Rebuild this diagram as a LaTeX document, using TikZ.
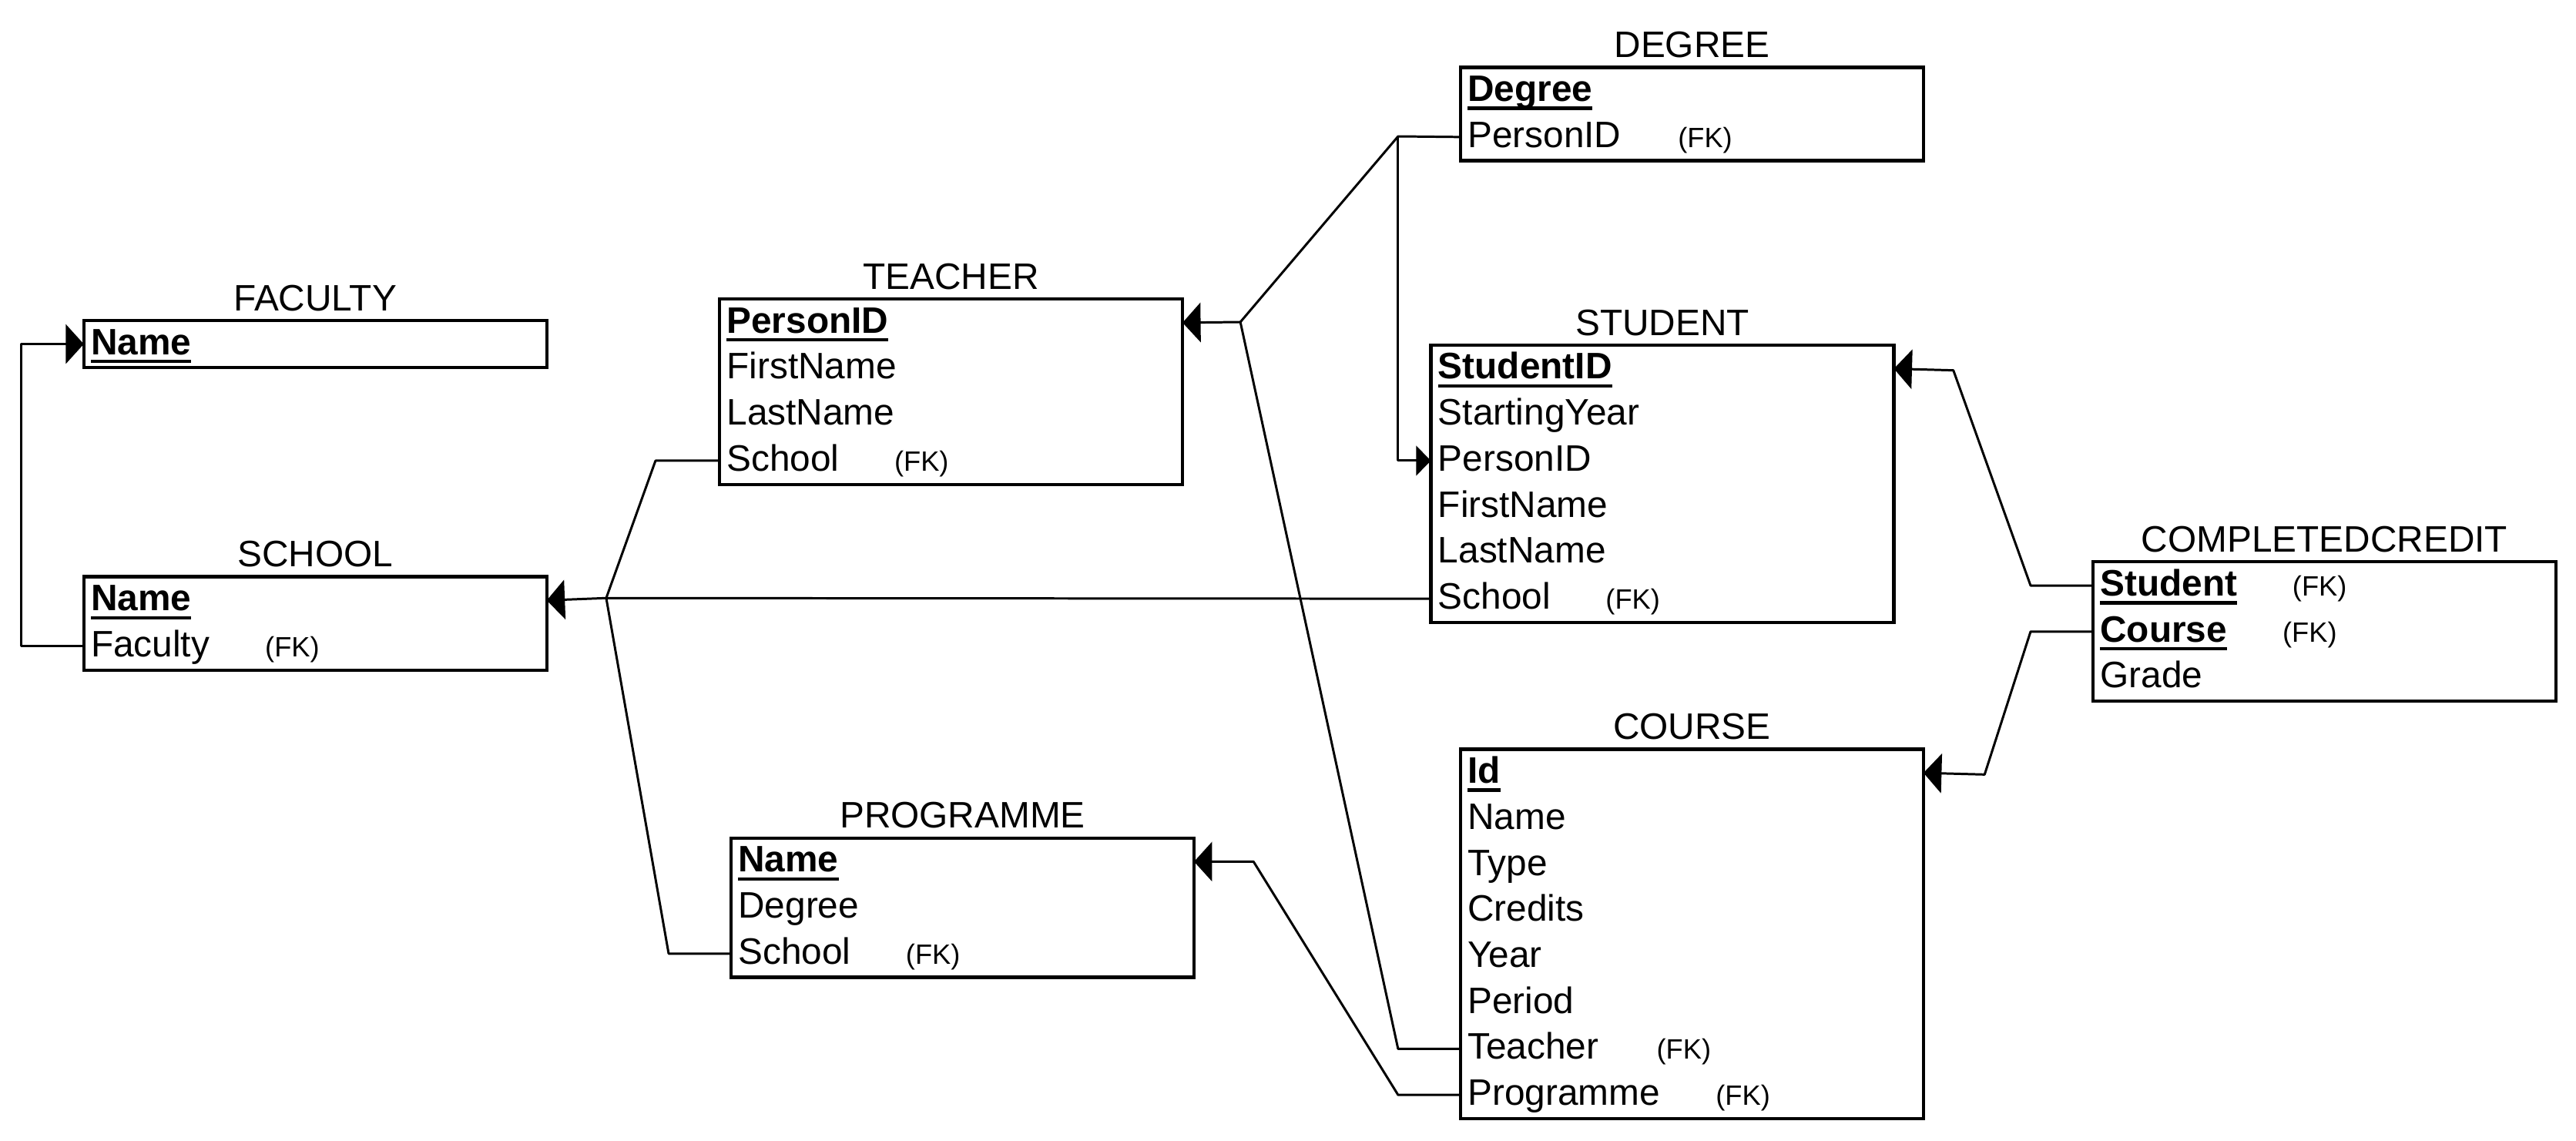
\documentclass[tikz,border=0pt]{standalone}
\usepackage{fontspec}
\setmainfont{Liberation Sans}
\usetikzlibrary{arrows.meta,fit,calc}
\newsavebox\kbox
\newcommand\keyf[1]{\sbox\kbox{\bfseries #1}\rlap{\rule[-2.6pt]{\wd\kbox}{1pt}}\usebox\kbox}
\newcommand\fkf[2]{\makebox[#1][l]{#2}{\fontsize{8.5}{10}\selectfont(FK)}}
\newcommand\ertab[6]{%
  \foreach \txt [count=\i] in {#6}{%
    \node[row] (#1-\i) at (#2,{#3+28*(\i-1)}) {\txt};}
  \node[tbox, fit=(#1-1)(#1-#5)] (#1) {};
  \node[ttitle] (#1-title) at ($(#1.north)+(0,-5)$) {#4};
}
\begin{document}
\begin{tikzpicture}[x=0.5pt,y=-0.5pt,
  row/.style={minimum width=140.5pt, minimum height=14pt, inner ysep=0pt,
    inner xsep=2pt, text width=136.5pt, align=left, text height=6.3pt,
    text depth=0pt, font=\fontsize{11.2}{13}\selectfont, anchor=north west},
  tbox/.style={draw, line width=1pt, inner sep=0pt},
  ttitle/.style={anchor=base, inner sep=0pt, font=\fontsize{11.2}{13}\selectfont},
  conn/.style={line width=0.7pt, line join=round},
  tip/.style={-{Triangle[length=5.5pt,width=12pt]}},
  smalltip/.style={-{Triangle[length=4.5pt,width=9pt]}}
]
\fill[white] (0,0) rectangle (1568,694);
\useasboundingbox (0,0) rectangle (1568,694);

\ertab{faculty}{51}{195}{FACULTY}{1}{\keyf{Name}}
\ertab{school}{51}{351}{SCHOOL}{2}{\keyf{Name},\fkf{53pt}{Faculty}}
\ertab{teacher}{438}{182}{TEACHER}{4}{\keyf{PersonID},FirstName,LastName,\fkf{51pt}{School}}
\ertab{degree}{889}{41}{DEGREE}{2}{\keyf{Degree},\fkf{64pt}{PersonID}}
\ertab{student}{871}{210}{STUDENT}{6}{\keyf{StudentID},StartingYear,PersonID,FirstName,LastName,\fkf{51pt}{School}}
\ertab{cc}{1274}{342}{COMPLETEDCREDIT}{3}{\fkf{58.5pt}{\keyf{Student}},\fkf{55.5pt}{\keyf{Course}},Grade}
\ertab{course}{889}{456}{COURSE}{8}{\keyf{Id},Name,Type,Credits,Year,Period,\fkf{57.5pt}{Teacher},\fkf{75.5pt}{Programme}}
\ertab{programme}{445}{510}{PROGRAMME}{3}{\keyf{Name},Degree,\fkf{51pt}{School}}

\coordinate (jschool) at (369,364);
\coordinate (jteach) at (755,196);
\coordinate (bdeg) at (851,83);

\draw[conn,tip] (school-2.west) -- ++(-38,0) |- (faculty-1.west);
\draw[conn] (teacher-4.west) -- ++(-39,0) -- (jschool);
\draw[conn] (programme-3.west) -- ++(-38,0) -- (jschool);
\draw[conn] (student-6.west) -- (jschool);
\draw[conn,tip] (jschool) -- (school-1.east);
\draw[conn] (degree-2.west) -- (bdeg) -- (jteach);
\draw[conn,smalltip] (bdeg) |- (student-3.west);
\draw[conn] (course-7.west) -- ++(-38,0) -- (jteach);
\draw[conn,tip] (jteach) -- (teacher-1.east);
\draw[conn,tip] (cc-1.west) -- ++(-38,0) -- ++(-47,-131) -- (student-1.east);
\draw[conn,tip] (cc-2.west) -- ++(-38,0) -- ++(-28,87) -- (course-1.east);
\draw[conn,tip] (course-8.west) -- ++(-38,0) -- ++(-88,-142) -- (programme-1.east);
\end{tikzpicture}
\end{document}
